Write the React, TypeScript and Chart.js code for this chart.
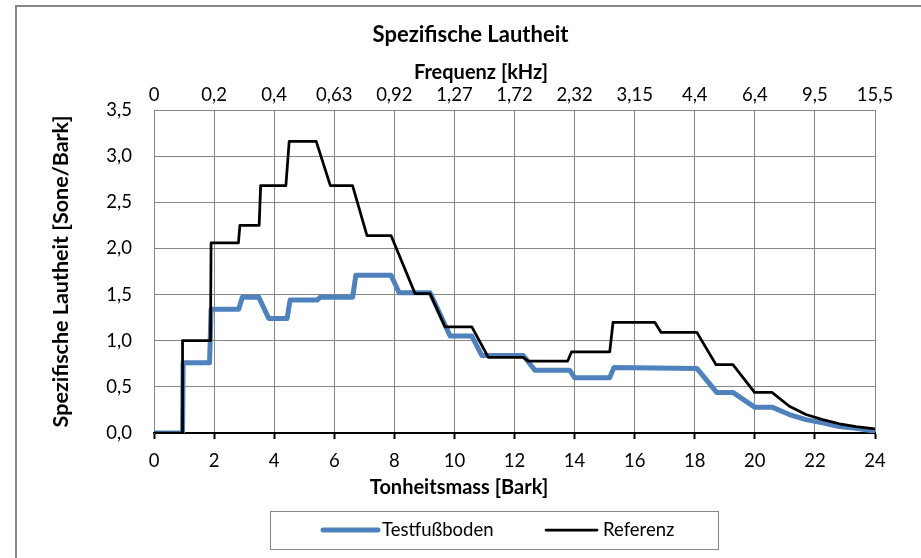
import React, { useEffect, useRef } from 'react';
import { Chart, registerables } from 'chart.js';

Chart.register(...registerables);

// ---------- Texts ----------
const CHART_TITLE = 'Spezifische Lautheit';
const TOP_AXIS_TITLE = 'Frequenz [kHz]';
const BOTTOM_AXIS_TITLE = 'Tonheitsmass [Bark]';
const Y_AXIS_TITLE = 'Spezifische Lautheit [Sone/Bark]';

// ---------- Axis ticks ----------
const barkTicks = [0, 2, 4, 6, 8, 10, 12, 14, 16, 18, 20, 22, 24];
const freqLabels = ['0', '0,2', '0,4', '0,63', '0,92', '1,27', '1,72', '2,32', '3,15', '4,4', '6,4', '9,5', '15,5'];
const yMin = 0;
const yMax = 3.5;
const yStep = 0.5;

// ---------- Series: Testfußboden ----------
const testLabel = 'Testfußboden';
const testBark = [
  0, 0.95, 0.97, 1.85, 1.9, 2.82, 2.94, 3.49, 3.82, 4.43, 4.53, 5.43, 5.53, 6.61, 6.72, 7.89, 8.16,
  9.19, 9.86, 10.58, 10.91, 12.29, 12.68, 13.84, 14.0, 15.17, 15.31, 18.07, 18.73, 19.27, 19.99,
  20.57, 21.15, 21.7, 22.26, 22.81, 23.37, 24,
];
const testValue = [
  0, 0, 0.76, 0.76, 1.34, 1.34, 1.47, 1.47, 1.24, 1.24, 1.44, 1.44, 1.47, 1.47, 1.71, 1.71, 1.52,
  1.52, 1.05, 1.05, 0.84, 0.84, 0.68, 0.68, 0.6, 0.6, 0.71, 0.7, 0.44, 0.44, 0.28,
  0.28, 0.2, 0.145, 0.11, 0.07, 0.05, 0.02,
];

// ---------- Series: Referenz ----------
const refLabel = 'Referenz';
const refBark = [
  0, 0.94, 0.95, 1.88, 1.9, 2.81, 2.86, 3.5, 3.55, 4.39, 4.5, 5.4, 5.87, 6.61, 7.09, 7.89, 8.69,
  9.19, 9.69, 10.58, 11.13, 12.29, 12.46, 13.77, 13.9, 15.17, 15.28, 16.67, 16.88, 18.07, 18.71,
  19.27, 19.99, 20.57, 21.15, 21.7, 22.26, 22.81, 23.37, 24,
];
const refValue = [
  0, 0, 1.0, 1.0, 2.06, 2.06, 2.25, 2.25, 2.68, 2.68, 3.16, 3.16, 2.68, 2.68, 2.14, 2.14, 1.51,
  1.51, 1.15, 1.15, 0.82, 0.82, 0.78, 0.78, 0.88, 0.88, 1.2, 1.2, 1.09, 1.09, 0.74,
  0.74, 0.44, 0.44, 0.29, 0.2, 0.145, 0.1, 0.07, 0.045,
];

// ---------- Styles ----------
const FONT = 'Lato';
const GRID = '#868686';
const BLUE = '#4F81BD';
const BLACK = '#000000';

const toPoints = (xs: number[], ys: number[]) => xs.map((x, i) => ({ x, y: ys[i] }));

const decorPlugin = {
  id: 'decor',
  beforeDraw(chart: any) {
    const ctx = chart.ctx;
    ctx.save();
    ctx.fillStyle = '#ffffff';
    ctx.fillRect(0, 0, chart.width, chart.height);
    ctx.strokeStyle = GRID;
    ctx.lineWidth = 2;
    ctx.beginPath();
    ctx.moveTo(16, chart.height + 2);
    ctx.lineTo(16, 6);
    ctx.lineTo(chart.width + 2, 6);
    ctx.stroke();
    ctx.restore();
  },
  afterDraw(chart: any) {
    const ctx = chart.ctx;
    ctx.save();
    ctx.fillStyle = '#000';
    ctx.textAlign = 'center';
    ctx.textBaseline = 'alphabetic';
    ctx.font = `bold 22px ${FONT}`;
    ctx.fillText(CHART_TITLE, 470.5, 42);
    ctx.font = `bold 20px ${FONT}`;
    ctx.fillText(TOP_AXIS_TITLE, 481, 78.5);
    ctx.fillText(BOTTOM_AXIS_TITLE, 459, 493.5);

    // legend
    const boxL = 270, boxT = 511, boxW = 448, boxH = 38;
    ctx.strokeStyle = GRID;
    ctx.lineWidth = 1;
    ctx.strokeRect(boxL + 0.5, boxT + 0.5, boxW, boxH);
    const items = [
      { ds: chart.data.datasets.find((d: any) => d.label === testLabel), x1: 323, x2: 378, tx: 382 },
      { ds: chart.data.datasets.find((d: any) => d.label === refLabel), x1: 546, x2: 597, tx: 603 },
    ];
    const ly = boxT + boxH / 2;
    items.forEach((it) => {
      ctx.strokeStyle = it.ds.borderColor;
      ctx.lineWidth = it.ds.borderWidth;
      ctx.lineCap = 'round';
      ctx.beginPath();
      ctx.moveTo(it.x1, ly);
      ctx.lineTo(it.x2, ly);
      ctx.stroke();
      ctx.font = `18.5px ${FONT}`;
      ctx.textAlign = 'left';
      ctx.fillStyle = '#000';
      ctx.fillText(it.ds.label, it.tx, 536);
    });
    ctx.restore();
  },
};

export default function App() {
  const canvasRef = useRef<HTMLCanvasElement | null>(null);

  useEffect(() => {
    let chart: Chart | null = null;
    let cancelled = false;
    const make = () => {
      if (cancelled || !canvasRef.current) return;
      Chart.defaults.font.family = FONT;
      Chart.defaults.color = '#000';
      chart = new Chart(canvasRef.current, {
        type: 'line',
        data: {
          datasets: [
            {
              label: testLabel,
              data: toPoints(testBark, testValue),
              borderColor: BLUE,
              backgroundColor: BLUE,
              borderWidth: 5,
              pointRadius: 0,
              tension: 0,
              borderJoinStyle: 'round',
              borderCapStyle: 'round',
              order: 1,
              xAxisID: 'x',
              yAxisID: 'y',
            },
            {
              label: refLabel,
              data: toPoints(refBark, refValue),
              borderColor: BLACK,
              backgroundColor: BLACK,
              borderWidth: 2.75,
              pointRadius: 0,
              tension: 0,
              borderJoinStyle: 'round',
              borderCapStyle: 'butt',
              order: 0,
              xAxisID: 'x',
              yAxisID: 'y',
            },
          ],
        },
        options: {
          responsive: false,
          animation: false,
          devicePixelRatio: 1,
          layout: { padding: { left: 0, top: 0, right: 46, bottom: 65 } },
          plugins: {
            legend: { display: false },
            title: { display: false },
            tooltip: { enabled: false },
          },
          scales: {
            x: {
              type: 'linear',
              position: 'bottom',
              min: 0,
              max: 24,
              afterFit: (s: any) => { s.height = 60; },
              ticks: {
                stepSize: 2,
                autoSkip: false,
                maxRotation: 0,
                padding: 11,
                font: { size: 18.5, family: FONT },
                color: '#000',
              },
              grid: {
                color: GRID,
                lineWidth: 1,
                drawTicks: true,
                tickLength: 6,
                tickColor: '#000',
                tickWidth: 2,
              },
              border: { display: true, color: '#000', width: 2 },
            },
            x2: {
              type: 'linear',
              axis: 'x',
              position: 'top',
              min: 0,
              max: 24,
              afterFit: (s: any) => { s.height = 110; },
              afterBuildTicks: (s: any) => { s.ticks = barkTicks.map((v) => ({ value: v })); },
              ticks: {
                autoSkip: false,
                maxRotation: 0,
                padding: 4,
                font: { size: 18.5, family: FONT },
                color: '#000',
                callback: (v: any) => {
                  const i = barkTicks.indexOf(Number(v));
                  return i >= 0 ? freqLabels[i] : '';
                },
              },
              grid: { display: false, drawTicks: false },
              border: { display: true, color: GRID, width: 1 },
            },
            y: {
              type: 'linear',
              position: 'left',
              min: yMin,
              max: yMax,
              afterFit: (s: any) => { s.width = 154; },
              ticks: {
                stepSize: yStep,
                padding: 22,
                font: { size: 18.5, family: FONT },
                color: '#000',
                callback: (v: any) => Number(v).toFixed(1).replace('.', ','),
              },
              grid: {
                color: (c: any) => (c.tick && c.tick.value === 0 ? 'rgba(0,0,0,0)' : GRID),
                lineWidth: 1,
                drawTicks: false,
              },
              border: { display: true, color: GRID, width: 1 },
              title: {
                display: true,
                text: Y_AXIS_TITLE,
                font: { size: 21.5, weight: 'bold', family: FONT },
                color: '#000',
                padding: { top: 48, bottom: 0 },
              },
            },
          },
        },
        plugins: [decorPlugin],
      } as any);
    };
    const fontsReady = (document as any).fonts
      ? Promise.all([
          (document as any).fonts.load(`18px ${FONT}`),
          (document as any).fonts.load(`bold 18px ${FONT}`),
        ]).catch(() => null)
      : Promise.resolve(null);
    fontsReady.then(make);
    return () => {
      cancelled = true;
      if (chart) chart.destroy();
    };
  }, []);

  return (
    <div style={{ position: 'fixed', left: 0, top: 0, width: 921, height: 558, background: '#fff' }}>
      <canvas ref={canvasRef} width={921} height={558} style={{ display: 'block' }} />
    </div>
  );
}
